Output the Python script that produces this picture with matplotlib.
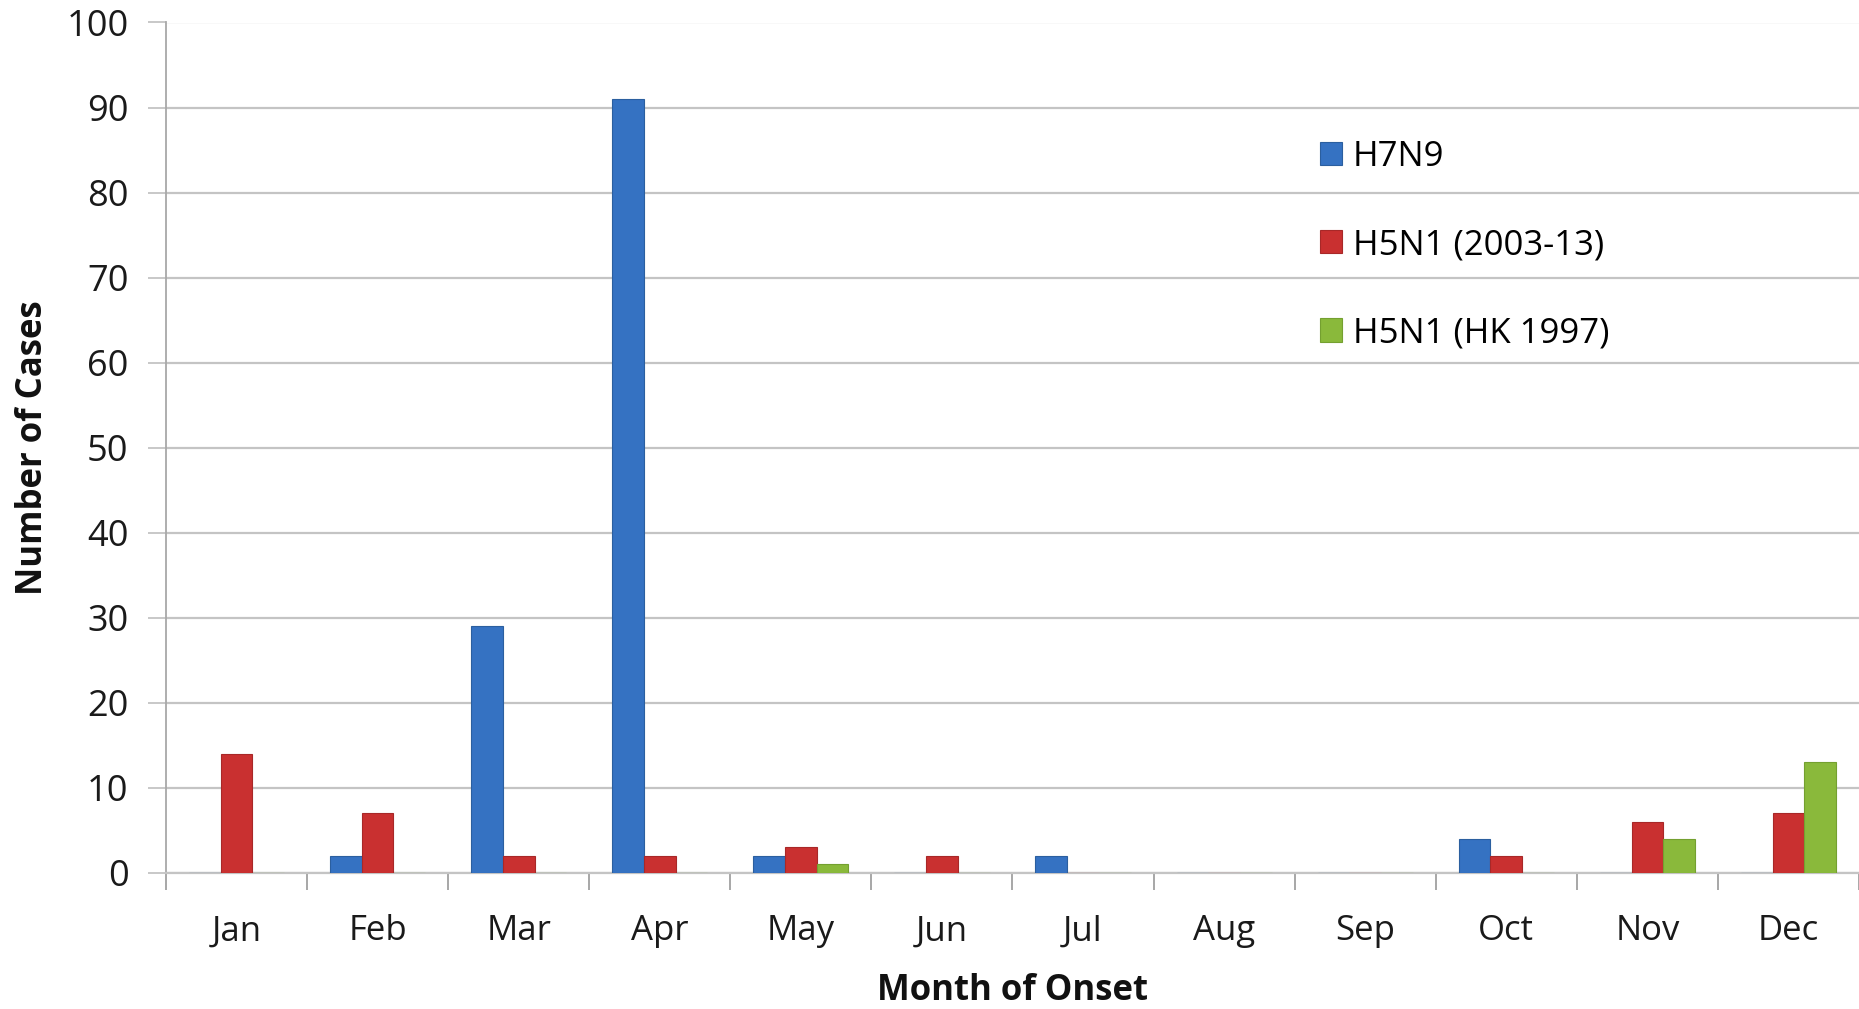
import matplotlib
matplotlib.use("Agg")
import matplotlib.pyplot as plt
import numpy as np

months = ["Jan", "Feb", "Mar", "Apr", "May", "Jun", "Jul", "Aug", "Sep", "Oct", "Nov", "Dec"]
h7n9 = [0, 2, 29, 91, 2, 0, 2, 0, 0, 4, 0, 0]
h5n1_0313 = [14, 7, 2, 2, 3, 2, 0, 0, 0, 2, 6, 7]
h5n1_hk97 = [0, 0, 0, 0, 1, 0, 0, 0, 0, 0, 4, 13]
series_labels = ["H7N9", "H5N1 (2003-13)", "H5N1 (HK 1997)"]
colors = ["#3572c2", "#c93030", "#8ab93b"]
edge_colors = ["#2b5f9f", "#a82828", "#74a030"]

plt.rcParams['font.family'] = ['Open Sans', 'DejaVu Sans']

fig = plt.figure(figsize=(18.59, 10.09), dpi=100)
ax = fig.add_axes([166/1859, 1-872.6/1009, 1-166/1859, (872.6-22.5)/1009])

x = np.arange(len(months))
w = 0.225
for i, (vals, lab, c, ec) in enumerate(zip([h7n9, h5n1_0313, h5n1_hk97], series_labels, colors, edge_colors)):
    ax.bar(x + (i-1)*w, vals, width=w, color=c, label=lab, zorder=3,
           edgecolor=ec, linewidth=0.8)

ax.set_xlim(-0.5, 11.5)
ax.set_ylim(0, 100)
ax.set_yticks(np.arange(0, 101, 10))
ax.yaxis.grid(True, color="#c4c4c4", linewidth=1.6, zorder=0)
ax.set_axisbelow(True)

ax.set_xticks(x)
ax.set_xticklabels(months)
ax.set_xticks(np.arange(-0.5, 12, 1), minor=True)
ax.tick_params(axis='x', which='major', length=0, pad=30, labelsize=25, labelcolor="#1a1a1a")
ax.tick_params(axis='x', which='minor', length=12, width=1.3, color="#a0a0a0", direction='out')
ax.tick_params(axis='y', length=13, width=1.3, color="#c4c4c4", labelsize=26, pad=14, labelcolor="#1a1a1a")

for s in ['top', 'right']:
    ax.spines[s].set_visible(False)
ax.spines['left'].set_color("#a8a8a8")
ax.spines['left'].set_linewidth(1.3)
ax.spines['bottom'].set_color("#c4c4c4")
ax.spines['bottom'].set_linewidth(1.6)

ax.set_ylabel("Number of Cases", fontsize=25, fontweight='bold', color="#111111")
ax.set_xlabel("Month of Onset", fontsize=25, fontweight='bold', labelpad=18, color="#111111")
ax.yaxis.set_label_coords(-(166-51)/(1859-166), 0.5)

leg = ax.legend(loc='upper left', bbox_to_anchor=((1306-166)/(1859-166), 1-(126-22.5)/(872.6-22.5)),
                frameon=False, fontsize=25, handlelength=0.65, handleheight=0.65,
                handletextpad=0.3, labelspacing=1.56, borderaxespad=0)

fig.savefig("out.png", dpi=100)
